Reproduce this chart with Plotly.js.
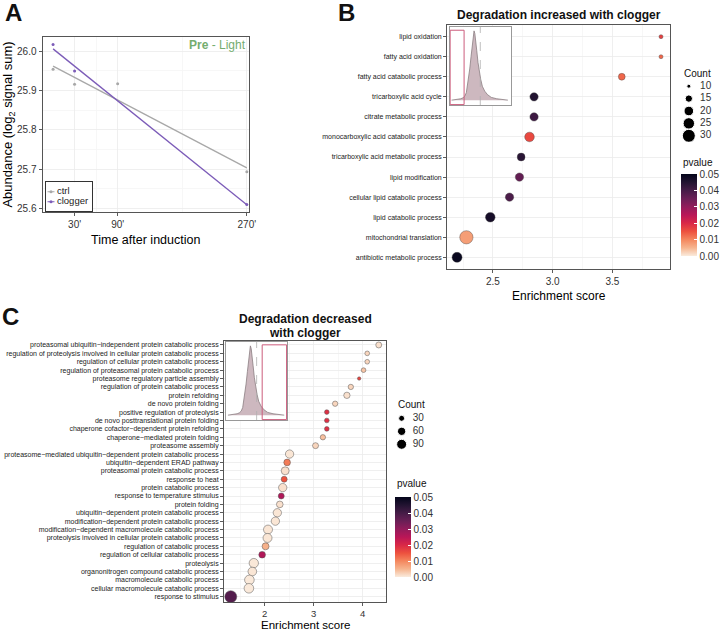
<!DOCTYPE html>
<html><head><meta charset="utf-8">
<script src="https://cdn.plot.ly/plotly-3.0.1.min.js"></script>
<style>html,body{margin:0;padding:0;background:#fff}#chart{width:723px;height:631px}</style>
</head><body><div id="chart"></div>
<script>
// ---------- Panel A data ----------
const timeA = [0, 30, 90, 270];
const ctrlA = [25.954, 25.916, 25.917, 25.693];
const cloggerTimeA = [0, 30, 270];
const cloggerA = [26.017, 25.950, 25.610];
const fitTimeA = [0, 270];
const ctrlFitA = [25.962, 25.703];
const cloggerFitA = [26.006, 25.609];
const timeTicksA = [30, 90, 270];
const timeLabelsA = ["30'", "90'", "270'"];
const seriesNamesA = ["ctrl", "clogger"];
const seriesColorsA = ["#a8a8a8", "#7c5cb8"];

// ---------- Panel B data ----------
const catB = ["lipid oxidation", "fatty acid oxidation", "fatty acid catabolic process",
  "tricarboxylic acid cycle", "citrate metabolic process", "monocarboxylic acid catabolic process",
  "tricarboxylic acid metabolic process", "lipid modification", "cellular lipid catabolic process",
  "lipid catabolic process", "mitochondrial translation", "antibiotic metabolic process"];
const esB = [3.906, 3.906, 3.578, 2.844, 2.844, 2.806, 2.736, 2.722, 2.639, 2.478, 2.278, 2.200];
const countB = [10, 10, 14, 17, 17, 20, 16, 17, 17, 20, 31, 21];
const pB = [0.017, 0.013, 0.013, 0.045, 0.041, 0.016, 0.044, 0.036, 0.039, 0.047, 0.0075, 0.049];
const countLevelsB = [10, 15, 20, 25, 30];

// ---------- Panel C data ----------
const catC = ["proteasomal ubiquitin−independent protein catabolic process",
  "regulation of proteolysis involved in cellular protein catabolic process",
  "regulation of cellular protein catabolic process",
  "regulation of proteasomal protein catabolic process",
  "proteasome regulatory particle assembly",
  "regulation of protein catabolic process",
  "protein refolding", "de novo protein folding", "positive regulation of proteolysis",
  "de novo posttranslational protein folding", "chaperone cofactor−dependent protein refolding",
  "chaperone−mediated protein folding", "proteasome assembly",
  "proteasome−mediated ubiquitin−dependent protein catabolic process",
  "ubiquitin−dependent ERAD pathway", "proteasomal protein catabolic process",
  "response to heat", "protein catabolic process", "response to temperature stimulus",
  "protein folding", "ubiquitin−dependent protein catabolic process",
  "modification−dependent protein catabolic process",
  "modification−dependent macromolecule catabolic process",
  "proteolysis involved in cellular protein catabolic process",
  "regulation of catabolic process", "regulation of cellular catabolic process",
  "proteolysis", "organonitrogen compound catabolic process",
  "macromolecule catabolic process", "cellular macromolecule catabolic process",
  "response to stimulus"];
const esC = [4.33, 4.095, 4.095, 4.02, 3.93, 3.76, 3.68, 3.44, 3.27, 3.27, 3.27, 3.19, 3.04,
  2.51, 2.46, 2.42, 2.40, 2.37, 2.34, 2.31, 2.26, 2.22, 2.07, 2.06, 2.02, 1.95, 1.78, 1.75, 1.69, 1.68, 1.31];
const countC = [30, 17, 17, 17, 7, 23, 34, 23, 17, 17, 17, 23, 30, 61, 38, 56, 30, 61, 30, 38,
  61, 61, 72, 72, 42, 38, 78, 66, 83, 83, 131];
const pC = [0.001, 0.002, 0.002, 0.0035, 0.0165, 0.002, 0.001, 0.002, 0.019, 0.019, 0.019, 0.004,
  0.002, 0.0005, 0.011, 0.001, 0.015, 0.001, 0.026, 0.001, 0.0005, 0.0005, 0.0005, 0.0005, 0.0055,
  0.026, 0.0003, 0.0005, 0.0002, 0.0002, 0.038];
const countLevelsC = [30, 60, 90];

// ---------- inset density (shared shape) ----------
const densX = [-2.8, -2.3, -1.9, -1.68, -1.5, -1.36, -1.2, -1.03, -0.9, -0.78, -0.68, -0.61, -0.53,
  -0.45, -0.35, -0.22, -0.1, 0.04, 0.2, 0.43, 0.7, 1.07, 1.6, 2.2, 2.69];
const densY = [0, 0.01, 0.02, 0.034, 0.06, 0.11, 0.25, 0.45, 0.63, 0.78, 0.92, 1.0, 0.96,
  0.88, 0.72, 0.54, 0.42, 0.30, 0.2, 0.13, 0.08, 0.04, 0.02, 0.01, 0];
const insetMedian = 0;
const insetSelB = [-2.94, -1.58];
const insetSelC = [0.54, 2.92];

// ---------- styling helpers ----------
const W = 723, H = 631;
const px = p => p / W, py = p => 1 - p / H;
const FONT = "Liberation Sans, Arial, sans-serif";
const rocketR = [[0, '#FAEBDD'], [0.1, '#F6B48E'], [0.2, '#F4875E'], [0.3, '#ED513E'], [0.4, '#D92847'],
  [0.5, '#B91657'], [0.6, '#921C5B'], [0.7, '#6A1F56'], [0.8, '#451C47'], [0.9, '#221331'], [1, '#03051A']];
const sizeB = c => Math.sqrt(16 + (c - 10) * 7.65);
const sizeC = c => Math.sqrt(Math.max(9, 36 + (c - 30) * 1.07));
const GRID = '#ebebeb', MINOR = '#f5f5f5', BORDER = '#555', TXT = '#333';
const pTicks = [0, 0.01, 0.02, 0.03, 0.04, 0.05];

const mainAxis = (extra) => Object.assign({
  showline: true, mirror: true, linecolor: BORDER, linewidth: 1,
  ticks: 'outside', ticklen: 3, tickwidth: 0.8, tickcolor: TXT,
  showgrid: true, gridcolor: GRID, gridwidth: 0.8, zeroline: false,
  tickfont: {family: FONT, size: 10, color: TXT}, automargin: false
}, extra);
const hiddenAxis = (extra) => Object.assign({visible: false, showgrid: false, zeroline: false, fixedrange: true}, extra);
const insetAxis = (extra) => Object.assign({
  showline: true, mirror: true, linecolor: '#999', linewidth: 1, ticks: '',
  showticklabels: false, showgrid: false, zeroline: false
}, extra);

const traces = [
  // Panel A
  {x: fitTimeA, y: ctrlFitA, mode: 'lines', line: {color: seriesColorsA[0], width: 1.3}, xaxis: 'x', yaxis: 'y', hoverinfo: 'skip'},
  {x: fitTimeA, y: cloggerFitA, mode: 'lines', line: {color: seriesColorsA[1], width: 1.3}, xaxis: 'x', yaxis: 'y', hoverinfo: 'skip'},
  {x: timeA, y: ctrlA, mode: 'markers', marker: {color: seriesColorsA[0], size: 3}, xaxis: 'x', yaxis: 'y'},
  {x: cloggerTimeA, y: cloggerA, mode: 'markers', marker: {color: seriesColorsA[1], size: 3}, xaxis: 'x', yaxis: 'y'},

  // Panel B main
  {x: esB, y: catB, mode: 'markers', xaxis: 'x2', yaxis: 'y2',
   marker: {size: countB.map(sizeB), color: pB, colorscale: rocketR, cmin: 0, cmax: 0.05,
     line: {color: '#444', width: 0.4}, opacity: 1,
     colorbar: {x: px(684), xanchor: 'left', y: py(174), yanchor: 'top', len: 82, lenmode: 'pixels',
       thickness: 16, xpad: 0, ypad: 0, outlinewidth: 0, tickvals: pTicks, ticktext: pTicks.map(v => v.toFixed(2)),
       ticks: 'inside', ticklen: 3, tickcolor: '#fff', tickfont: {family: FONT, size: 10, color: TXT}}}},
  // Panel B inset
  {x: densX, y: densY, mode: 'lines', fill: 'tozeroy', fillcolor: '#cdb8bf', line: {color: '#8a7d82', width: 0.8},
   xaxis: 'x3', yaxis: 'y3', hoverinfo: 'skip'},

  // Panel C main
  {x: esC, y: catC, mode: 'markers', xaxis: 'x4', yaxis: 'y4',
   marker: {size: countC.map(sizeC), color: pC, colorscale: rocketR, cmin: 0, cmax: 0.05,
     line: {color: '#555', width: 0.5}, opacity: 1,
     colorbar: {x: px(396.7), xanchor: 'left', y: py(497), yanchor: 'top', len: 80, lenmode: 'pixels',
       thickness: 16, xpad: 0, ypad: 0, outlinewidth: 0, tickvals: pTicks, ticktext: pTicks.map(v => v.toFixed(2)),
       ticks: 'inside', ticklen: 3, tickcolor: '#fff', tickfont: {family: FONT, size: 10, color: TXT}}}},
  // Panel C inset
  {x: densX, y: densY, mode: 'lines', fill: 'tozeroy', fillcolor: '#cdb8bf', line: {color: '#8a7d82', width: 0.8},
   xaxis: 'x5', yaxis: 'y5', hoverinfo: 'skip'},

  // Count legend B
  {x: countLevelsB.map(() => 7.7), y: countLevelsB.map((_, i) => i), mode: 'markers', xaxis: 'x6', yaxis: 'y6',
   marker: {size: countLevelsB.map(sizeB), color: '#000', opacity: 1}, hoverinfo: 'skip'},
  {x: countLevelsB.map(() => 19), y: countLevelsB.map((_, i) => i), mode: 'text', text: countLevelsB.map(String),
   textposition: 'middle right', textfont: {family: FONT, size: 10, color: TXT}, xaxis: 'x6', yaxis: 'y6', hoverinfo: 'skip'},
  // Count legend C
  {x: countLevelsC.map(() => 7.3), y: countLevelsC.map((_, i) => i), mode: 'markers', xaxis: 'x7', yaxis: 'y7',
   marker: {size: countLevelsC.map(sizeC), color: '#000', opacity: 1}, hoverinfo: 'skip'},
  {x: countLevelsC.map(() => 18.5), y: countLevelsC.map((_, i) => i), mode: 'text', text: countLevelsC.map(String),
   textposition: 'middle right', textfont: {family: FONT, size: 10, color: TXT}, xaxis: 'x7', yaxis: 'y7', hoverinfo: 'skip'}
];

// Legend A (keys drawn in a small boxed subplot)
seriesNamesA.forEach((name, i) => {
  traces.push({x: [2, 9], y: [i, i], mode: 'lines', line: {color: seriesColorsA[i], width: 1.2}, xaxis: 'x8', yaxis: 'y8', hoverinfo: 'skip'});
  traces.push({x: [5.5], y: [i], mode: 'markers', marker: {color: seriesColorsA[i], size: 3}, xaxis: 'x8', yaxis: 'y8', hoverinfo: 'skip'});
  traces.push({x: [11.5], y: [i], mode: 'text', text: [name], textposition: 'middle right',
    textfont: {family: FONT, size: 9.5, color: '#222'}, xaxis: 'x8', yaxis: 'y8', hoverinfo: 'skip'});
});

const ann = (text, x, y, opts) => Object.assign({text, x: px(x), y: py(y), xref: 'paper', yref: 'paper',
  showarrow: false, xanchor: 'center', yanchor: 'middle', font: {family: FONT, size: 12, color: '#000'}}, opts || {});

const layout = {
  width: W, height: H, margin: {l: 0, r: 0, t: 0, b: 0},
  paper_bgcolor: '#fff', plot_bgcolor: '#fff', font: {family: FONT, color: TXT},
  showlegend: false,
  xaxis: mainAxis({domain: [px(42.7), px(250)], anchor: 'y', range: [-14.7, 273], tickmode: 'array',
    tickvals: timeTicksA, ticktext: timeLabelsA,
    minor: {tickvals: [60, 180], showgrid: true, gridcolor: MINOR, ticks: ''},
    title: {text: 'Time after induction', font: {family: FONT, size: 12.5, color: '#000'}, standoff: 5}}),
  yaxis: mainAxis({domain: [py(212.3), py(36.7)], anchor: 'x', range: [25.59, 26.037], dtick: 0.1, tickformat: '.1f',
    minor: {dtick: 0.05, showgrid: true, gridcolor: MINOR, ticks: ''},
    title: {text: 'Abundance (log<sub>2</sub> signal sum)', font: {family: FONT, size: 13, color: '#000'}, standoff: 3}}),

  xaxis2: mainAxis({domain: [px(449), px(673)], anchor: 'y2', range: [2.117, 3.983], tickvals: [2.5, 3.0, 3.5],
    ticktext: ['2.5', '3.0', '3.5'],
    minor: {tickvals: [2.25, 2.75, 3.25, 3.75], showgrid: true, gridcolor: MINOR, ticks: ''},
    title: {text: 'Enrichment score', font: {family: FONT, size: 12, color: '#000'}, standoff: 5}}),
  yaxis2: mainAxis({domain: [py(269), py(25)], anchor: 'x2', type: 'category', categoryorder: 'array',
    categoryarray: catB, range: [11.58, -0.58], tickfont: {family: FONT, size: 7, color: '#222'}}),

  xaxis3: insetAxis({domain: [px(451.7), px(513.3)], anchor: 'y3', range: [-2.97, 3.01]}),
  yaxis3: insetAxis({domain: [py(105), py(26.7)], anchor: 'x3', range: [-0.07, 1.06]}),

  xaxis4: mainAxis({domain: [px(225), px(387.7)], anchor: 'y4', range: [1.173, 4.48], tickvals: [2, 3, 4],
    ticklen: 2.5, tickfont: {family: FONT, size: 9.5, color: TXT},
    minor: {tickvals: [1.5, 2.5, 3.5], showgrid: true, gridcolor: MINOR, ticks: ''}}),
  yaxis4: mainAxis({domain: [py(602.3), py(340.7)], anchor: 'x4', type: 'category', categoryorder: 'array',
    categoryarray: catC, range: [30.67, -0.51], tickfont: {family: FONT, size: 7, color: '#222'}}),

  xaxis5: insetAxis({domain: [px(226.5), px(288.3)], anchor: 'y5', range: [-3.03, 2.97]}),
  yaxis5: insetAxis({domain: [py(420), py(341.7)], anchor: 'x5', range: [-0.07, 1.06]}),

  xaxis6: hiddenAxis({domain: [px(684), px(720)], anchor: 'y6', range: [0, 36]}),
  yaxis6: hiddenAxis({domain: [py(142), py(80)], anchor: 'x6', range: [4.5, -0.5]}),
  xaxis7: hiddenAxis({domain: [px(396), px(430)], anchor: 'y7', range: [0, 34]}),
  yaxis7: hiddenAxis({domain: [py(450.8), py(411.8)], anchor: 'x7', range: [2.5, -0.5]}),

  xaxis8: {domain: [px(45.7), px(92.3)], anchor: 'y8', range: [0, 46.6], showline: true, mirror: true,
    linecolor: '#333', linewidth: 1, showgrid: false, zeroline: false, showticklabels: false, ticks: '', fixedrange: true},
  yaxis8: {domain: [py(210.7), py(182.3)], anchor: 'x8', range: [1.9, -0.95], showline: true, mirror: true,
    linecolor: '#333', linewidth: 1, showgrid: false, zeroline: false, showticklabels: false, ticks: '', fixedrange: true},

  shapes: [
    // white backgrounds for inset + legend box
    {type: 'rect', xref: 'x3 domain', yref: 'y3 domain', x0: 0, x1: 1, y0: 0, y1: 1, fillcolor: '#fff', line: {width: 0}, layer: 'below'},
    {type: 'rect', xref: 'x5 domain', yref: 'y5 domain', x0: 0, x1: 1, y0: 0, y1: 1, fillcolor: '#fff', line: {width: 0}, layer: 'below'},
    {type: 'rect', xref: 'x8 domain', yref: 'y8 domain', x0: 0, x1: 1, y0: 0, y1: 1, fillcolor: '#fff', line: {width: 0}, layer: 'below'},
    // median dashed lines
    {type: 'line', xref: 'x3', yref: 'y3 domain', x0: insetMedian, x1: insetMedian, y0: 0, y1: 1, line: {color: '#b0b0b0', width: 0.8, dash: 'dash'}},
    {type: 'line', xref: 'x5', yref: 'y5 domain', x0: insetMedian, x1: insetMedian, y0: 0, y1: 1, line: {color: '#b0b0b0', width: 0.8, dash: 'dash'}},
    // selection boxes
    {type: 'rect', xref: 'x3', yref: 'y3 domain', x0: insetSelB[0], x1: insetSelB[1], y0: 0.005, y1: 0.955, line: {color: '#cc5c7c', width: 1}},
    {type: 'rect', xref: 'x5', yref: 'y5 domain', x0: insetSelC[0], x1: insetSelC[1], y0: 0.005, y1: 0.96, line: {color: '#cc5c7c', width: 1}}
  ],

  annotations: [
    ann('<b>A</b>', 3, 13, {xanchor: 'left', font: {family: FONT, size: 24, color: '#111'}}),
    ann('<b>B</b>', 337, 12, {xanchor: 'left', font: {family: FONT, size: 24, color: '#111'}}),
    ann('<b>C</b>', 0, 316, {xanchor: 'left', font: {family: FONT, size: 24, color: '#111'}}),
    ann('<b>Pre</b> - Light', 249, 45, {xanchor: 'right', font: {family: FONT, size: 12, color: '#74ad6f'}}),
    ann('<b>Degradation increased with clogger</b>', 561, 15.5, {font: {family: FONT, size: 12, color: '#111'}}),
    ann('<b>Degradation decreased</b>', 306.4, 319.3, {font: {family: FONT, size: 12, color: '#111'}}),
    ann('<b>with clogger</b>', 306.4, 332.7, {font: {family: FONT, size: 12, color: '#111'}}),
    ann('Enrichment score', 306.4, 624.5, {font: {family: FONT, size: 11.5, color: '#000'}}),
    ann('Count', 685, 73, {xanchor: 'left', font: {family: FONT, size: 10, color: '#111'}}),
    ann('pvalue', 684, 162, {xanchor: 'left', font: {family: FONT, size: 10, color: '#111'}}),
    ann('Count', 397.5, 404, {xanchor: 'left', font: {family: FONT, size: 10, color: '#111'}}),
    ann('pvalue', 396.5, 483.3, {xanchor: 'left', font: {family: FONT, size: 10, color: '#111'}})
  ]
};

Plotly.newPlot('chart', traces, layout, {staticPlot: true, displayModeBar: false});
</script>
</body></html>
